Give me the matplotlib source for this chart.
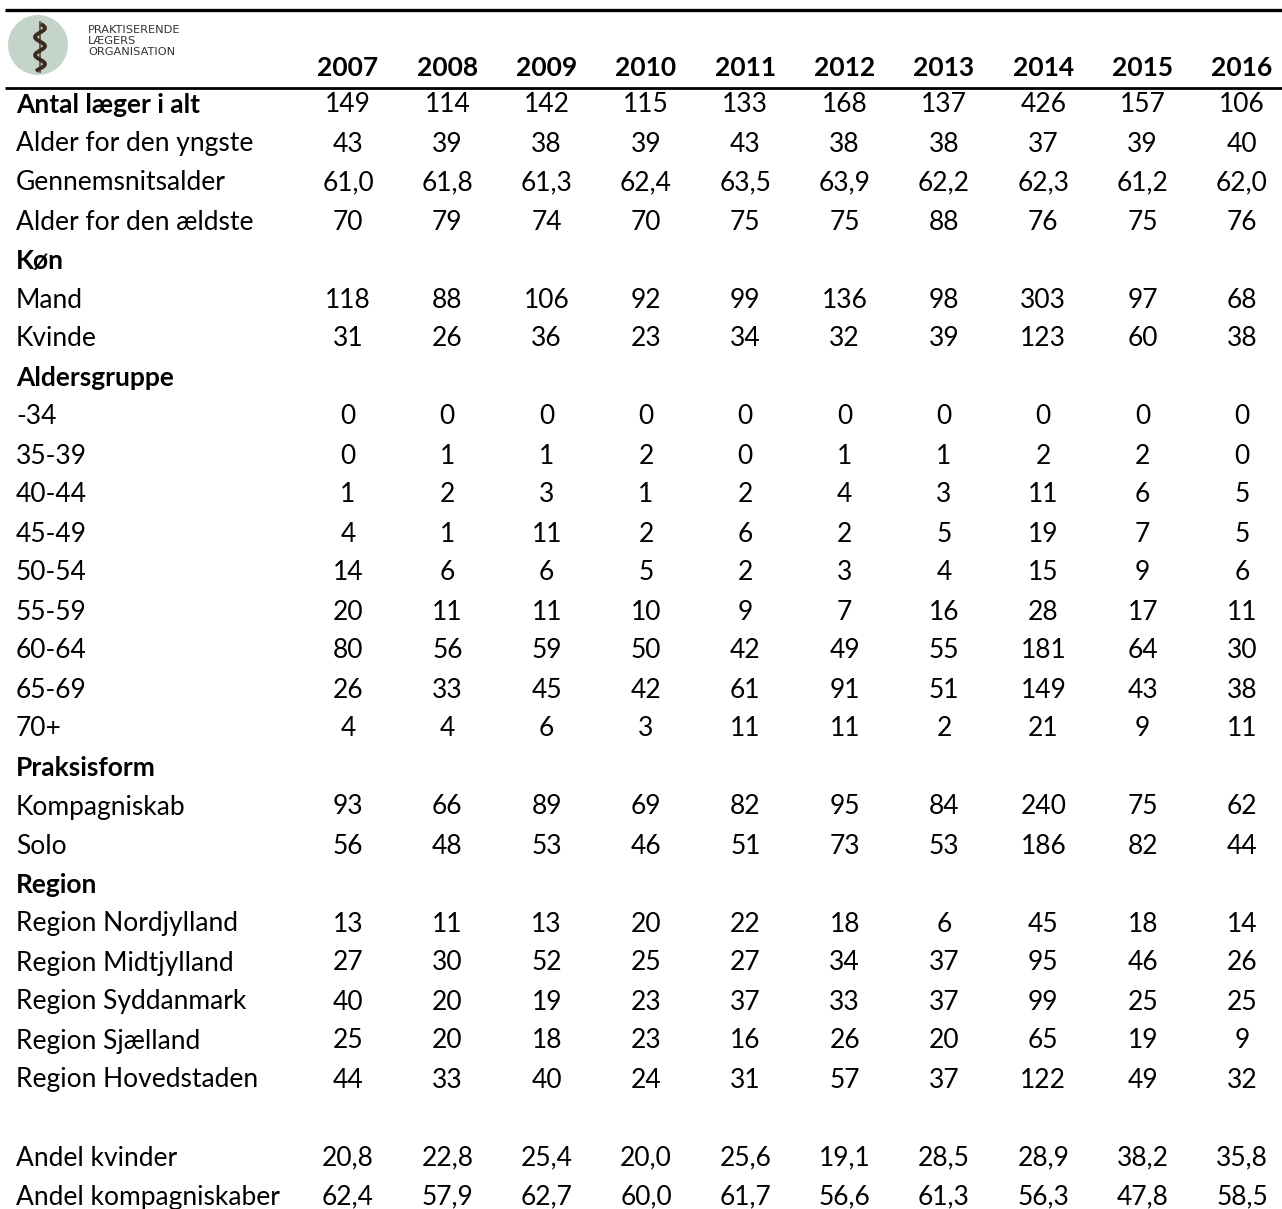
"""
Table of GPs leaving practice 2007-2016, redrawn as a matplotlib figure.
Saves out.png at 1282x1209 px.
"""

import numpy as np
import matplotlib
matplotlib.use("Agg")
import matplotlib.pyplot as plt
import matplotlib.patches as patches

# Data
years = [2007, 2008, 2009, 2010, 2011, 2012, 2013, 2014, 2015, 2016]

antal_laeger = [149, 114, 142, 115, 133, 168, 137, 426, 157, 106]
alder_yngste = [43, 39, 38, 39, 43, 38, 38, 37, 39, 40]
gennemsnitsalder = [61.0, 61.8, 61.3, 62.4, 63.5, 63.9, 62.2, 62.3, 61.2, 62.0]
alder_aeldste = [70, 79, 74, 70, 75, 75, 88, 76, 75, 76]

mand = [118, 88, 106, 92, 99, 136, 98, 303, 97, 68]
kvinde = [31, 26, 36, 23, 34, 32, 39, 123, 60, 38]

age_groups = ["-34", "35-39", "40-44", "45-49", "50-54", "55-59", "60-64", "65-69", "70+"]
age_counts = [
    [0, 0, 0, 0, 0, 0, 0, 0, 0, 0],
    [0, 1, 1, 2, 0, 1, 1, 2, 2, 0],
    [1, 2, 3, 1, 2, 4, 3, 11, 6, 5],
    [4, 1, 11, 2, 6, 2, 5, 19, 7, 5],
    [14, 6, 6, 5, 2, 3, 4, 15, 9, 6],
    [20, 11, 11, 10, 9, 7, 16, 28, 17, 11],
    [80, 56, 59, 50, 42, 49, 55, 181, 64, 30],
    [26, 33, 45, 42, 61, 91, 51, 149, 43, 38],
    [4, 4, 6, 3, 11, 11, 2, 21, 9, 11],
]

kompagniskab = [93, 66, 89, 69, 82, 95, 84, 240, 75, 62]
solo = [56, 48, 53, 46, 51, 73, 53, 186, 82, 44]

regions = ["Region Nordjylland", "Region Midtjylland", "Region Syddanmark",
           "Region Sjælland", "Region Hovedstaden"]
region_counts = [
    [13, 11, 13, 20, 22, 18, 6, 45, 18, 14],
    [27, 30, 52, 25, 27, 34, 37, 95, 46, 26],
    [40, 20, 19, 23, 37, 33, 37, 99, 25, 25],
    [25, 20, 18, 23, 16, 26, 20, 65, 19, 9],
    [44, 33, 40, 24, 31, 57, 37, 122, 49, 32],
]

andel_kvinder = [20.8, 22.8, 25.4, 20.0, 25.6, 19.1, 28.5, 28.9, 38.2, 35.8]
andel_kompagniskaber = [62.4, 57.9, 62.7, 60.0, 61.7, 56.6, 61.3, 56.3, 47.8, 58.5]


def fmt(v, dec):
    if dec:
        return f"{v:.1f}".replace(".", ",")
    return str(v)


# (label, values, bold, decimals)
rows = [
    ("Antal læger i alt", antal_laeger, True, False),
    ("Alder for den yngste", alder_yngste, False, False),
    ("Gennemsnitsalder", gennemsnitsalder, False, True),
    ("Alder for den ældste", alder_aeldste, False, False),
    ("Køn", None, True, False),
    ("Mand", mand, False, False),
    ("Kvinde", kvinde, False, False),
    ("Aldersgruppe", None, True, False),
]
rows += [(g, c, False, False) for g, c in zip(age_groups, age_counts)]
rows += [
    ("Praksisform", None, True, False),
    ("Kompagniskab", kompagniskab, False, False),
    ("Solo", solo, False, False),
    ("Region", None, True, False),
]
rows += [(r, c, False, False) for r, c in zip(regions, region_counts)]
rows += [
    ("", None, False, False),
    ("Andel kvinder", andel_kvinder, False, True),
    ("Andel kompagniskaber", andel_kompagniskaber, False, True),
]

# Layout (pixel coordinates)
W, H = 1282, 1209
FONT = ["Lato", "DejaVu Sans"]
FS = 19
col_x = np.linspace(348, 1242, len(years))
row_y0, row_dy = 105, 39.0
label_x = 16

fig = plt.figure(figsize=(W / 100, H / 100), dpi=100)
ax = fig.add_axes([0, 0, 1, 1])
ax.set_xlim(0, W)
ax.set_ylim(H, 0)
ax.axis("off")

# rules
ax.plot([5, W], [9.5, 9.5], color="black", lw=2.4, solid_capstyle="butt")
ax.plot([5, W], [87.5, 87.5], color="black", lw=2.0, solid_capstyle="butt")

# logo
ax.add_patch(patches.Circle((38, 45), 30, fc="#c5d4c9", ec="none"))
t = np.linspace(0, 1, 60)
ax.plot([40, 40], [22, 72], color="#6b5a48", lw=1.4)
ax.plot(40 + 5 * np.sin(t * 5 * np.pi + 0.5), 25 + t * 45, color="#3b2a1e", lw=2.8)
logo_lines = ["PRAKTISERENDE", "LÆGERS", "ORGANISATION"]
for k, line in enumerate(logo_lines):
    ax.text(88, 30 + k * 11, line, fontsize=8.2,
            family=["Liberation Sans Narrow", "DejaVu Sans"], color="#333333",
            va="center", ha="left")

# header years
for x, yr in zip(col_x, years):
    ax.text(x, 68, str(yr), ha="center", va="center", fontsize=FS,
            fontweight="bold", family=FONT)

# body
for i, (label, vals, bold, dec) in enumerate(rows):
    y = row_y0 + i * row_dy
    if label:
        ax.text(label_x, y, label, ha="left", va="center", fontsize=FS,
                fontweight="bold" if bold else "normal", family=FONT)
    if vals is not None:
        for x, v in zip(col_x, vals):
            ax.text(x, y, fmt(v, dec), ha="center", va="center",
                    fontsize=FS, family=FONT)

fig.savefig("out.png", dpi=100, facecolor="white")
